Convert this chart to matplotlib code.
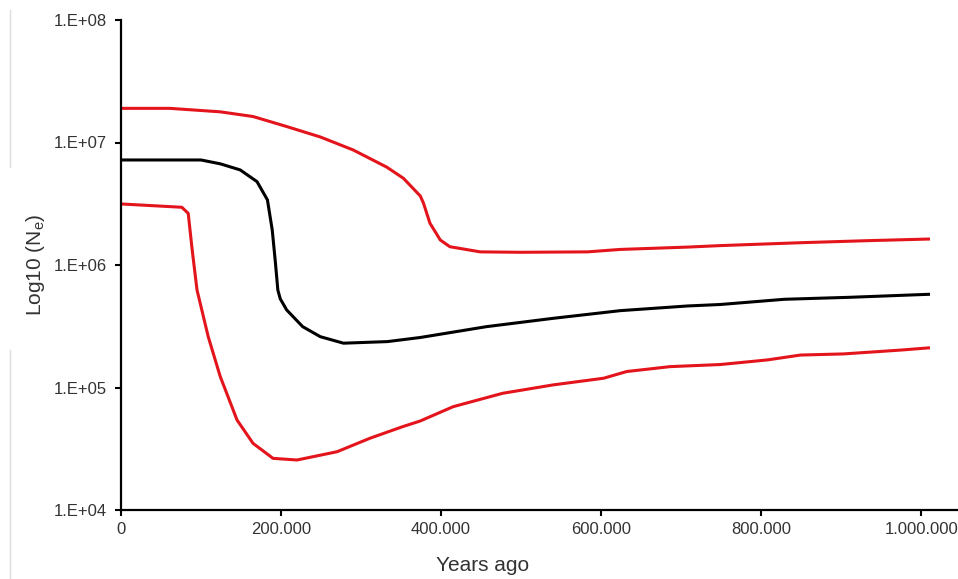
import numpy as np
import matplotlib
matplotlib.use('Agg')
import matplotlib.pyplot as plt
from matplotlib.ticker import FixedLocator, FuncFormatter, NullLocator
from matplotlib.lines import Line2D

plt.rcParams['font.family'] = ['Liberation Sans', 'DejaVu Sans']

# years ago (thousands) and Ne
upper_years = [0, 61, 124, 165, 207, 249, 290, 332, 353, 374, 378, 386, 399, 411,
               449, 499, 583, 624, 708, 749, 849, 933, 1011]
upper_ne = [1.90e7, 1.90e7, 1.78e7, 1.63e7, 1.35e7, 1.11e7, 8.7e6, 6.3e6, 5.1e6, 3.66e6,
            3.2e6, 2.2e6, 1.6e6, 1.41e6, 1.28e6, 1.27e6, 1.28e6, 1.34e6, 1.40e6, 1.44e6,
            1.52e6, 1.58e6, 1.63e6]

median_years = [0, 100, 124, 149, 170, 183, 189, 193, 196, 199, 207, 227, 249, 278,
                333, 374, 457, 540, 624, 708, 749, 829, 911, 1011]
median_ne = [7.2e6, 7.2e6, 6.7e6, 5.97e6, 4.79e6, 3.40e6, 1.93e6, 1.04e6, 6.25e5, 5.3e5,
             4.3e5, 3.14e5, 2.60e5, 2.30e5, 2.37e5, 2.56e5, 3.14e5, 3.67e5, 4.24e5,
             4.63e5, 4.76e5, 5.25e5, 5.45e5, 5.77e5]

lower_years = [0, 76, 84, 89, 95, 109, 124, 145, 165, 190, 220, 270, 311, 352, 374,
               415, 477, 540, 603, 632, 686, 749, 808, 849, 903, 974, 1011]
lower_ne = [3.15e6, 2.96e6, 2.64e6, 1.32e6, 6.25e5, 2.60e5, 1.23e5, 5.43e4, 3.5e4,
            2.64e4, 2.56e4, 2.99e4, 3.85e4, 4.79e4, 5.33e4, 6.97e4, 8.97e4, 1.05e5,
            1.19e5, 1.35e5, 1.48e5, 1.54e5, 1.68e5, 1.84e5, 1.88e5, 2.02e5, 2.11e5]

x_ticks = [0, 200000, 400000, 600000, 800000, 1000000]
y_ticks = [1e4, 1e5, 1e6, 1e7, 1e8]

my_red = '#e3141b'

fig = plt.figure(figsize=(9.58, 5.79), dpi=100, facecolor='white')
ax = fig.add_axes([121/958, 69/579, 837/958, 490/579])

ax.plot(np.array(upper_years) * 1000, upper_ne, color=my_red, lw=2.2,
        solid_joinstyle='round', solid_capstyle='butt')
ax.plot(np.array(median_years) * 1000, median_ne, color='black', lw=2.2,
        solid_joinstyle='round', solid_capstyle='butt')
ax.plot(np.array(lower_years) * 1000, lower_ne, color=my_red, lw=2.2,
        solid_joinstyle='round', solid_capstyle='butt')

ax.set_yscale('log')
ax.set_ylim(1e4, 1e8)
ax.set_xlim(0, 1046000)

ax.yaxis.set_major_locator(FixedLocator(y_ticks))
ax.yaxis.set_minor_locator(NullLocator())
ax.yaxis.set_major_formatter(FuncFormatter(lambda v, p: '1.E+%02d' % int(round(np.log10(v)))))
ax.xaxis.set_major_locator(FixedLocator(x_ticks))
ax.xaxis.set_major_formatter(FuncFormatter(lambda v, p: f'{int(v):,}'.replace(',', '.')))

for side in ['top', 'right']:
    ax.spines[side].set_visible(False)
for side in ['left', 'bottom']:
    ax.spines[side].set_linewidth(1.6)
    ax.spines[side].set_color('black')

ax.tick_params(direction='out', length=4, width=1.5, colors='black',
               labelcolor='#333333', labelsize=12)
ax.tick_params(axis='y', pad=6)
ax.tick_params(axis='x', pad=5)

ax.set_xlabel('Years ago', fontsize=15, color='#333333')
ax.xaxis.set_label_coords(0.4325, -0.093)
ax.set_ylabel('Log10 (N$_\\mathregular{e}$)', fontsize=15, color='#333333')
ax.yaxis.set_label_coords(-0.088, 0.5)

# faint scan edge on the left
fig.add_artist(Line2D([10/958, 10/958], [1 - 10/579, 1 - 167/579], color='#dcdcdc', lw=1))
fig.add_artist(Line2D([10/958, 10/958], [1 - 350/579, 0], color='#dcdcdc', lw=1))

plt.savefig('out.png', dpi=100, facecolor='white')
